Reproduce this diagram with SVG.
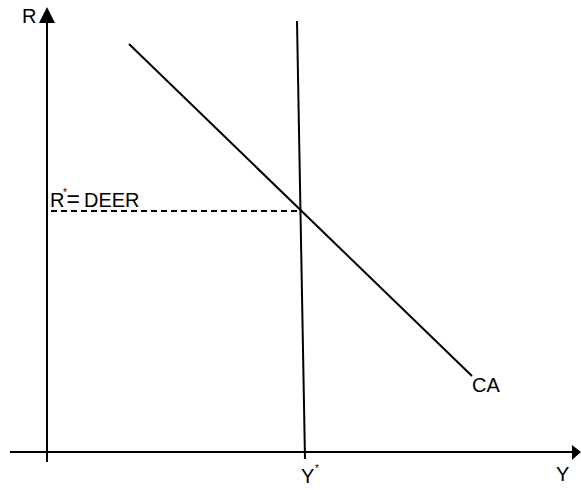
<svg xmlns="http://www.w3.org/2000/svg" width="581" height="490" viewBox="0 0 581 490">
<style>
.ln{stroke:#000;stroke-width:2;fill:none}
.t{font-family:"Liberation Sans",Arial,sans-serif;font-size:20px;fill:#000}
.s{font-family:"Liberation Sans",Arial,sans-serif;font-size:10px;fill:#000}
</style>
<rect width="581" height="490" fill="#fff"/>
<g id="connectors">
<line class="ln" x1="47" y1="20" x2="47" y2="462"/>
<polygon points="47,7 39,23 55,23" fill="#000"/>
<line class="ln" x1="10" y1="452" x2="574" y2="452"/>
<polygon points="581,452 572,445 572,460" fill="#000"/>
<line class="ln" x1="297" y1="21" x2="305" y2="459"/>
<line class="ln" x1="129" y1="44" x2="472" y2="376"/>
<line class="ln" x1="51" y1="211" x2="300" y2="211" stroke-dasharray="6,4" stroke-width="1.5"/>
</g>
<g id="labels">
<text class="t" x="22" y="23">R</text>
<text class="t" x="50" y="207">R</text>
<text class="s" x="63" y="196">*</text>
<text class="t" x="66.5" y="207" style="font-size:23px">=</text>
<text class="t" x="84" y="207">DEER</text>
<text class="t" x="301" y="483">Y</text>
<text class="s" x="315" y="472">*</text>
<text class="t" x="472" y="392">CA</text>
<text class="t" x="556" y="481">Y</text>
</g>
</svg>
